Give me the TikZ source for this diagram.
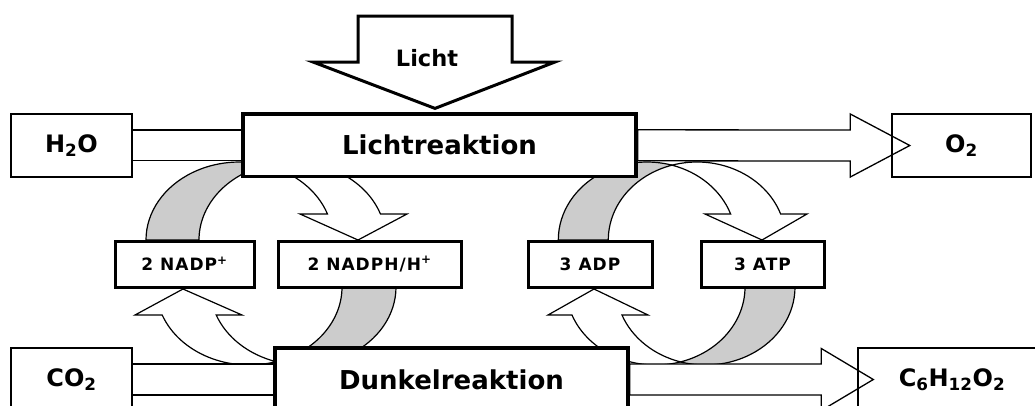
\documentclass[tikz,border=0pt]{standalone}
\usepackage{fontspec}
\setmainfont{DejaVu Sans}
\newfontfamily\MySpacedFam[LetterSpace=6]{DejaVu Sans}
\pgfdeclarelayer{bg}
\pgfsetlayers{bg,main}
\definecolor{bandgray}{RGB}{204,204,204}
\tikzset{
 thinbox/.style={draw, line width=1.4pt, inner sep=0pt, font=\fontsize{24}{28}\selectfont\bfseries},
 thickbox/.style={draw, fill=white, line width=3.3pt, inner sep=0pt, font=\fontsize{26}{30}\selectfont\bfseries},
 smallbox/.style={draw, fill=white, line width=3pt, inner sep=0pt, minimum height=46, font=\MySpacedFam\fontsize{17}{20}\selectfont\bfseries},
 pipe/.style={draw, fill=white, line width=1.3pt},
 band/.style={draw, line width=1.2pt},
 bigarrow/.style={draw, fill=white, line width=3pt, line join=miter},
}
% curved down arrow: #1 cx1, #2 rx, #3 w, #4 feet y, #5 head base y, #6 head left, #7 head right, #8 tip x, #9 tip y
\newcommand\MyCurveDown[9]{%
 \pgfmathsetmacro\MyCDa{acos(#3/(2*#2))}%
 \pgfmathsetmacro\MyCDb{180-\MyCDa}%
 \pgfmathsetmacro\MyCDe{asin((#4-#5)/78)}%
 \pgfmathsetmacro\MyCDx{#1+#2*cos(\MyCDe)}%
 \pgfmathsetmacro\MyCDpx{#1+#3/2}%
 \pgfmathsetmacro\MyCDpy{-#4+78*sin(\MyCDa)}%
 \draw[band, fill=bandgray] (#1-#2,-#4) arc[start angle=180, end angle=\MyCDa, x radius=#2, y radius=78]
   arc[start angle=\MyCDb, end angle=180, x radius=#2, y radius=78] -- cycle;
 \draw[band, fill=white] (\MyCDpx,\MyCDpy) arc[start angle=\MyCDb, end angle=\MyCDe, x radius=#2, y radius=78]
   -- (#7,-#5) -- (#8,-#9) -- (#6,-#5) -- (\MyCDx,-#5)
   arc[start angle=\MyCDe, end angle=\MyCDa, x radius=#2, y radius=78] -- cycle;
}
% curved up arrow: #1 cxA, #2 rx, #3 w, #4 feet y, #5 head base y, #6 head left, #7 head right, #8 tip x, #9 tip y
\newcommand\MyCurveUp[9]{%
 \pgfmathsetmacro\MyCUa{acos(#3/(2*#2))}%
 \pgfmathsetmacro\MyCUe{180+asin((#5-#4)/78)}%
 \pgfmathsetmacro\MyCUx{#1+#3+#2*cos(\MyCUe)}%
 \pgfmathsetmacro\MyCUqx{#1+#3/2}%
 \pgfmathsetmacro\MyCUqy{-#4-78*sin(\MyCUa)}%
 \draw[band, fill=bandgray] (#1+#3+#2,-#4) arc[start angle=360, end angle=180+\MyCUa, x radius=#2, y radius=78]
   arc[start angle=360-\MyCUa, end angle=360, x radius=#2, y radius=78] -- cycle;
 \draw[band, fill=white] (\MyCUqx,\MyCUqy) arc[start angle=360-\MyCUa, end angle=\MyCUe, x radius=#2, y radius=78]
   -- (#6,-#5) -- (#8,-#9) -- (#7,-#5) -- (\MyCUx,-#5)
   arc[start angle=\MyCUe, end angle=180+\MyCUa, x radius=#2, y radius=78] -- cycle;
}
\begin{document}
\begin{tikzpicture}[x=1pt,y=1pt]
\useasboundingbox (0,0) rectangle (1035,-405);
% boxes
\node[thinbox, fill=white, minimum width=121, minimum height=63] (h2o) at (71.5,-145.5) {H\textsubscript{2}O};
\node[thickbox, minimum width=393, minimum height=62.5] (licht) at (439.5,-145.3) {Lichtreaktion};
\node[thinbox, minimum width=139, minimum height=63] (o2) at (961.5,-145.5) {O\textsubscript{2}};
\node[thinbox, fill=white, minimum width=121, minimum height=63] (co2) at (71.5,-379.5) {CO\textsubscript{2}};
\node[thickbox, minimum width=353, minimum height=63] (dunkel) at (451.5,-379.5) {Dunkelreaktion};
\node[thinbox, minimum width=188, minimum height=63] (c6) at (952,-379.5) {C\textsubscript{6}H\textsubscript{12}O\textsubscript{2}};
\node[smallbox, minimum width=139] (nadp) at (184.5,-264) {2 NADP\textsuperscript{+}};
\node[smallbox, minimum width=183] (nadph) at (369.5,-264) {2 NADPH/H\textsuperscript{+}};
\node[smallbox, minimum width=124] (adp) at (590,-264) {3 ADP};
\node[smallbox, minimum width=123] (atp) at (762.5,-264) {3 ATP};
% light arrow
\draw[bigarrow] (358,-16) -- (512,-16) -- (512,-62) -- (555,-62) -- ([xshift=-4.5,yshift=4]licht.north) -- (313,-62) -- (358,-62) -- cycle;
\node[font=\fontsize{22.5}{26}\selectfont\bfseries] (lichtin) at (427,-58) {Licht};
\begin{pgfonlayer}{bg}
 \MyCurveDown{239.4}{93.4}{53}{240}{214}{300}{407}{358}{240}
 \MyCurveDown{647}{88.7}{50}{240}{214}{705}{807}{762}{240}
 \MyCurveUp{249}{93}{54}{287}{315}{135}{242}{183}{289}
 \MyCurveUp{655.5}{89.5}{50}{287}{315}{548}{648}{594}{289}
 % pipes
 \draw[pipe] ([yshift=15.5]h2o.east) rectangle ([yshift=-15.5]licht.west);
 \draw[pipe] ([yshift=15.5]licht.east) -- ([xshift=-41,yshift=15.5]o2.west) -- ([xshift=-41,yshift=31.5]o2.west)
   -- ([xshift=18.5]o2.west) -- ([xshift=-41,yshift=-31.5]o2.west) -- ([xshift=-41,yshift=-15.5]o2.west)
   -- ([yshift=-15.5]licht.east) -- cycle;
 \draw[pipe] ([yshift=15.5]co2.east) rectangle ([yshift=-15.5]dunkel.west);
 \draw[pipe] ([yshift=15.5]dunkel.east) -- ([xshift=-36,yshift=15.5]c6.west) -- ([xshift=-36,yshift=31]c6.west)
   -- ([xshift=16]c6.west) -- ([xshift=-36,yshift=-31]c6.west) -- ([xshift=-36,yshift=-15.5]c6.west)
   -- ([yshift=-15.5]dunkel.east) -- cycle;
\end{pgfonlayer}
\end{tikzpicture}
\end{document}
